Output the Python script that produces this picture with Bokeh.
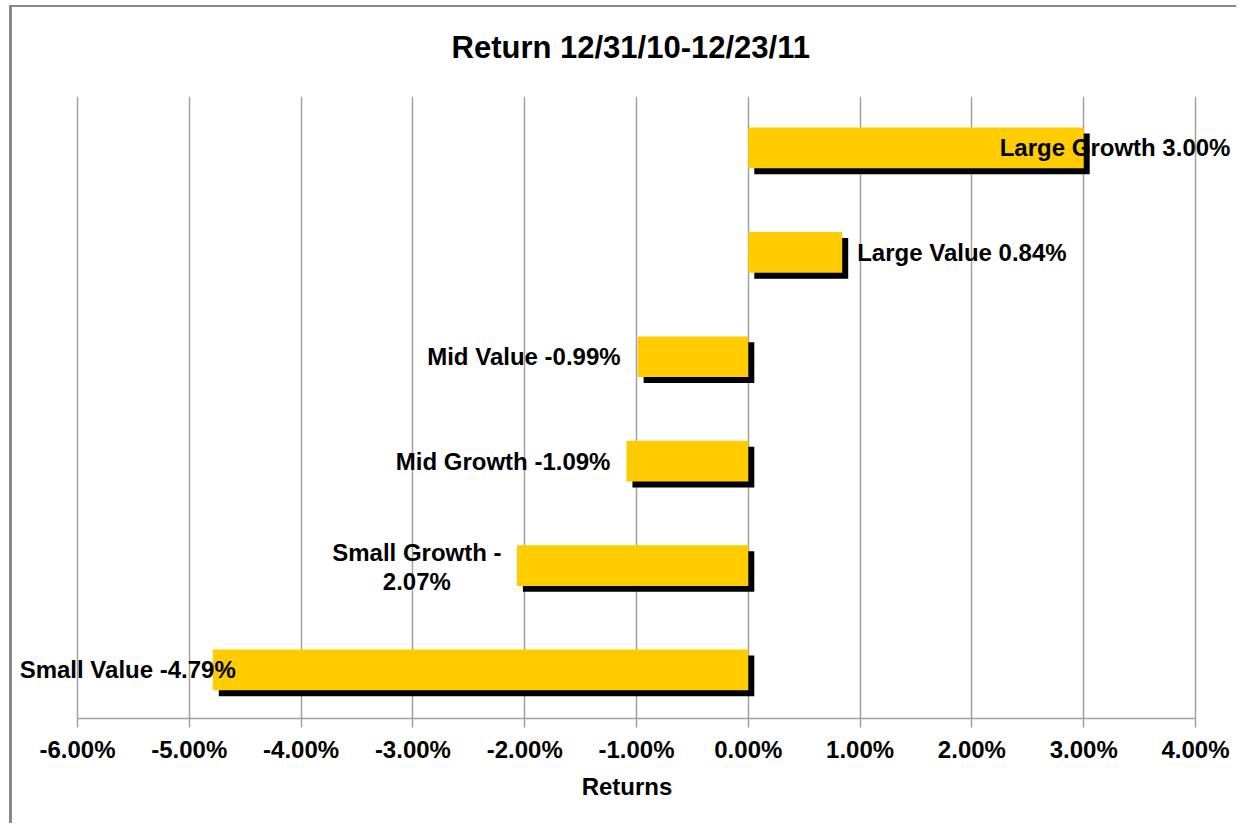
from bokeh.plotting import figure
from bokeh.models import ColumnDataSource, LabelSet, SingleIntervalTicker, PrintfTickFormatter, Range1d, Title
from bokeh.core.properties import value
from bokeh.embed import file_html
from bokeh.resources import INLINE

# ---- data (top to bottom as in the chart) ----
categories = ["Large Growth", "Large Value", "Mid Value", "Mid Growth", "Small Growth", "Small Value"]
returns_pct = [3.00, 0.84, -0.99, -1.09, -2.07, -4.79]
title_text = "Return 12/31/10-12/23/11"
x_label = "Returns"
axis_min, axis_max = -6, 4

# ---- layout / styling (not data) ----
FONT = "Liberation Sans"
PX_PER_PCT = 111.8
LEFT_PAD_PX = 63     # extra room left of the -6% line (for labels)
RIGHT_PAD_PX = 44    # extra room right of the 4% line (for labels)
BAR_H = 0.39
SHADOW_DX = 6 / PX_PER_PCT
SHADOW_DY = 0.057
# label placement: (x offset px, alignment, wrap after hyphen)
label_layout = [(-84, "left", False), (15, "left", False), (-17, "right", False),
                (-16, "right", False), (-100, "center", True), (23, "right", False)]
LINE_OFFSETS = [13, -16]   # two-line label: first line up, second down

n = len(categories)
ypos = [n - 1 - i for i in range(n)]

bar_src = ColumnDataSource(dict(
    y=ypos,
    val=returns_pct,
    ys=[y - SHADOW_DY for y in ypos],
    left_s=[SHADOW_DX] * n,
    right_s=[v + SHADOW_DX for v in returns_pct],
))

lx, ly, lt, ldx, ldy, lal = [], [], [], [], [], []
for c, v, y, (dx, al, wrap) in zip(categories, returns_pct, ypos, label_layout):
    t = f"{c} {v:.2f}%"
    lines = t.replace(" -", " -\n", 1).split("\n") if wrap else [t]
    offs = LINE_OFFSETS if len(lines) == 2 else [0]
    for line, dy in zip(lines, offs):
        lx.append(v); ly.append(y); lt.append(line)
        ldx.append(dx); ldy.append(dy); lal.append(al)
lab_src = ColumnDataSource(dict(x=lx, y=ly, text=lt, dx=ldx, dy=ldy, align=lal))

p = figure(width=1227, height=818, output_backend="svg", toolbar_location=None,
           x_range=Range1d(axis_min - LEFT_PAD_PX / PX_PER_PCT, axis_max + RIGHT_PAD_PX / PX_PER_PCT),
           y_range=Range1d(-0.465, 5.493),
           min_border_left=2, min_border_right=0, min_border_top=89, min_border_bottom=107)
p.styles = {"margin-left": "9px", "margin-top": "5px",
            "border-left": "3px solid #888888", "border-top": "2px solid #888888"}

# spacer between frame and title (first "above" item sits closest to the frame)
p.add_layout(Title(text=" ", text_font_size="1px", standoff=24), "above")
p.add_layout(Title(text=title_text, text_font=FONT, text_font_size="31px",
                   text_font_style="bold", text_color="#000000",
                   align="left", offset=437, standoff=10), "above")

p.hbar(y="ys", left="left_s", right="right_s", height=BAR_H, source=bar_src,
       fill_color="#000000", line_color=None)
p.hbar(y="y", left=0, right="val", height=BAR_H, source=bar_src,
       fill_color="#FFCC00", line_color=None)

labels = LabelSet(x="x", y="y", text="text", x_offset="dx", y_offset="dy", source=lab_src,
                  text_align="align", text_baseline="middle",
                  text_font=value(FONT), text_font_size="24px", text_font_style="bold",
                  text_color="#000000")
p.add_layout(labels)

p.outline_line_color = None
p.background_fill_color = "white"
p.border_fill_color = "white"

p.yaxis.visible = False
p.ygrid.visible = False

ax = p.xaxis[0]
ax.bounds = (axis_min, axis_max)
ax.ticker = SingleIntervalTicker(interval=1)
ax.formatter = PrintfTickFormatter(format="%.2f%%")
ax.axis_line_color = "#a0a0a0"
ax.axis_line_width = 1.5
ax.major_tick_line_color = "#a0a0a0"
ax.major_tick_line_width = 1.5
ax.major_tick_in = 0
ax.major_tick_out = 9
ax.minor_tick_line_color = None
ax.major_label_text_font = FONT
ax.major_label_text_font_size = "24px"
ax.major_label_text_font_style = "bold"
ax.major_label_text_color = "#000000"
ax.major_label_standoff = 8
ax.axis_label = x_label
ax.axis_label_text_font = FONT
ax.axis_label_text_font_size = "24px"
ax.axis_label_text_font_style = "bold"
ax.axis_label_text_color = "#000000"
ax.axis_label_standoff = 7

p.xgrid.ticker = SingleIntervalTicker(interval=1)
p.xgrid.grid_line_color = "#a0a0a0"
p.xgrid.grid_line_width = 1.5

open("out.html", "w").write(file_html(p, INLINE))
